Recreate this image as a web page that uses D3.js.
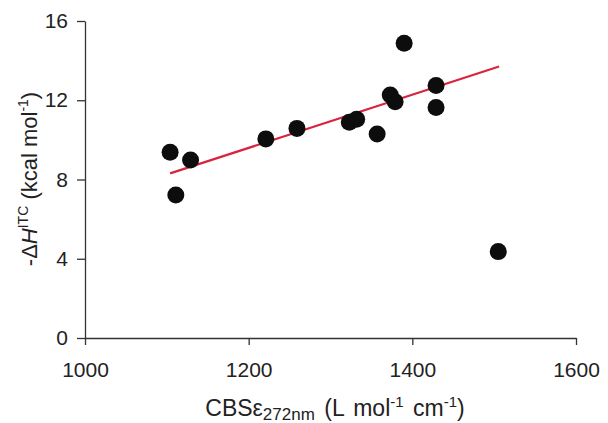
<!DOCTYPE html>
<html><head><meta charset="utf-8">
<script src="https://cdn.jsdelivr.net/npm/d3@7"></script>
<style>body{margin:0;background:#fff}svg{display:block}text{font-family:"Liberation Sans",Arial,sans-serif;fill:#222}</style>
</head><body><svg id="c" width="608" height="423"></svg>
<script>
const xVals = [1104, 1129, 1111, 1221, 1259, 1323, 1332, 1357, 1373, 1379, 1390, 1429, 1429, 1505];
const yVals = [9.37, 8.98, 7.22, 10.05, 10.58, 10.89, 11.04, 10.30, 12.27, 11.93, 14.88, 12.74, 11.63, 4.36];
const fitX = [1104, 1506];
const fitY = [8.31, 13.70];
const xTicks = [1000, 1200, 1400, 1600];
const yTicks = [0, 4, 8, 12, 16];

const svg = d3.select("#c");
const x = d3.scaleLinear().domain([1000, 1600]).range([85, 576]);
const y = d3.scaleLinear().domain([0, 16]).range([338, 21]);

const xAxis = svg.append("g").attr("transform", "translate(0,338)")
  .call(d3.axisBottom(x).tickValues(xTicks).tickFormat(d3.format("d")).tickSize(7).tickPadding(17).tickSizeOuter(0));
const yAxis = svg.append("g").attr("transform", "translate(85,0)")
  .call(d3.axisLeft(y).tickValues(yTicks).tickFormat(d3.format("d")).tickSize(8).tickPadding(9).tickSizeOuter(0));
[xAxis, yAxis].forEach(a => {
  a.selectAll("path,line").attr("stroke", "#333").attr("stroke-width", 1.3);
  a.selectAll("text").attr("font-size", 21).attr("fill", "#222").attr("font-family", '"Liberation Sans",Arial,sans-serif');
});

svg.append("line")
  .attr("x1", x(fitX[0])).attr("y1", y(fitY[0]))
  .attr("x2", x(fitX[1])).attr("y2", y(fitY[1]))
  .attr("stroke", "#d9243f").attr("stroke-width", 2.2);

svg.append("g").selectAll("circle").data(xVals.map((v, i) => [v, yVals[i]]))
  .join("circle").attr("cx", d => x(d[0])).attr("cy", d => y(d[1])).attr("r", 8.5).attr("fill", "#0d0d0d");

// x title
const xt = svg.append("text").attr("x", 335).attr("y", 416).attr("text-anchor", "middle").attr("font-size", 23).attr("word-spacing", 3);
xt.append("tspan").text("CBS");
xt.append("tspan").attr("font-size", 23).text("ε");
xt.append("tspan").attr("font-size", 17).attr("dy", 4).text("272nm");
xt.append("tspan").attr("dy", -4).text(" (L mol");
xt.append("tspan").attr("font-size", 15).attr("dy", -9).text("-1");
xt.append("tspan").attr("dy", 9).text(" cm");
xt.append("tspan").attr("font-size", 15).attr("dy", -9).text("-1");
xt.append("tspan").attr("dy", 9).text(")");

// y title
const yt = svg.append("text").attr("transform", "translate(37,179) rotate(-90)").attr("text-anchor", "middle").attr("font-size", 22);
yt.append("tspan").text("-Δ");
yt.append("tspan").attr("font-style", "italic").text("H");
yt.append("tspan").attr("font-size", 14).attr("dy", -9).text("ITC");
yt.append("tspan").attr("dy", 9).text(" (kcal mol");
yt.append("tspan").attr("font-size", 14).attr("dy", -9).text("-1");
yt.append("tspan").attr("dy", 9).text(")");
</script></body></html>
